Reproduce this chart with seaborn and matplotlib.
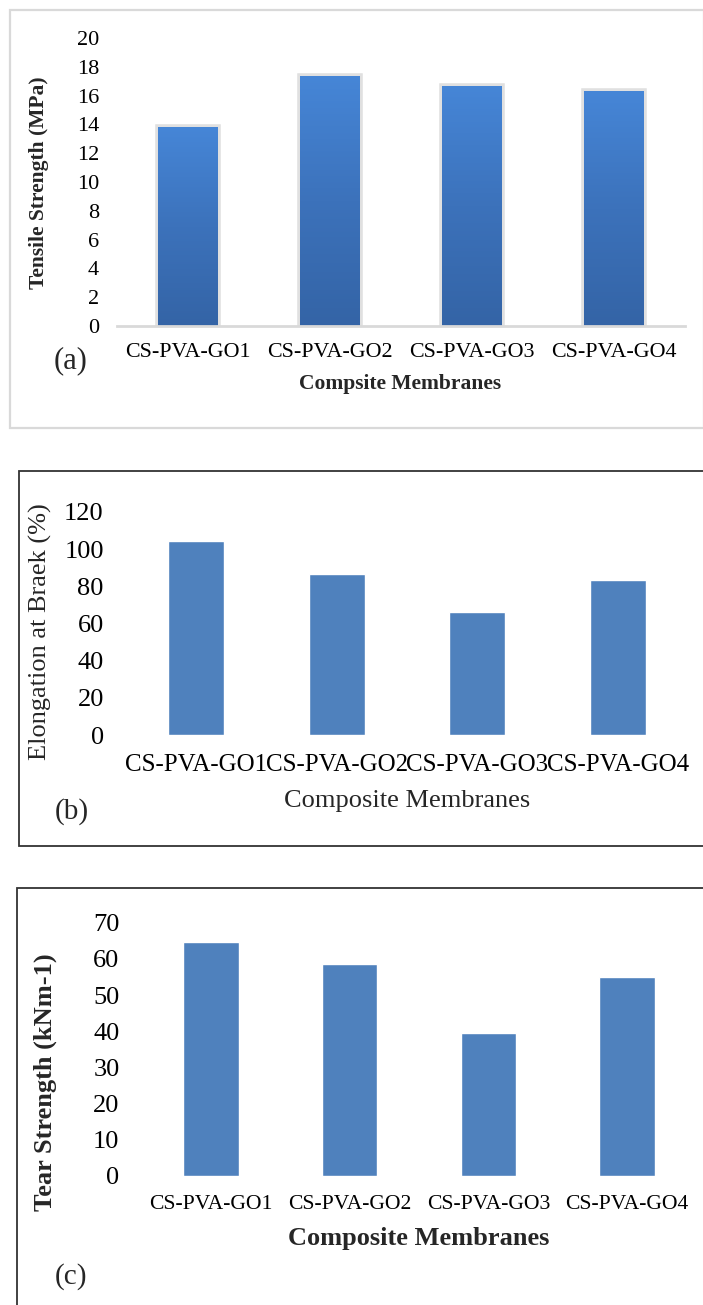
import numpy as np
import pandas as pd
import matplotlib
matplotlib.use("Agg")
import matplotlib.pyplot as plt
import seaborn as sns
from matplotlib.patches import Rectangle
from matplotlib.colors import LinearSegmentedColormap

sns.set_theme(style="white")
plt.rcParams["font.family"] = ["Liberation Serif", "DejaVu Serif"]

membranes = ["CS-PVA-GO1", "CS-PVA-GO2", "CS-PVA-GO3", "CS-PVA-GO4"]
tensile_mpa = [13.8, 17.35, 16.7, 16.3]
elongation_pct = [104.5, 86.5, 66.3, 83.6]
tear_knm = [64.6, 58.5, 39.5, 55.1]

W, H = 703, 1305
fig = plt.figure(figsize=(W / 100, H / 100), dpi=100)


def frac_rect(x0, y0, x1, y1):
    """pixel box (top-left origin) -> figure fraction [l, b, w, h]"""
    return [x0 / W, 1 - y1 / H, (x1 - x0) / W, (y1 - y0) / H]


def frame(x0, y0, x1, y1, color, lw):
    l, b, w, h = frac_rect(x0, y0, x1, y1)
    fig.patches.append(Rectangle((l, b), w, h, transform=fig.transFigure,
                                 fill=False, edgecolor=color, linewidth=lw))


def fig_text(x, y, s, **kw):
    fig.text(x / W, 1 - y / H, s, **kw)


# ---------- (a) tensile strength ----------
frame(10, 10, 703.5, 428, "#d9d9d9", 1.6)
ax1 = fig.add_axes(frac_rect(117, 38, 685, 326))
df1 = pd.DataFrame({"membrane": membranes, "value": tensile_mpa})
sns.barplot(data=df1, x="membrane", y="value", ax=ax1, width=0.42,
            color="#3f78c4", edgecolor="#e0e0e0", linewidth=4, saturation=1)
grad = LinearSegmentedColormap.from_list("blues", ["#3464a6", "#3c72bb", "#4686d7"])
for p in ax1.patches:
    x0, y0 = p.get_x(), p.get_y()
    img = ax1.imshow(np.linspace(0, 1, 256).reshape(-1, 1), cmap=grad, origin="lower",
                     extent=[x0, x0 + p.get_width(), y0, y0 + p.get_height()],
                     aspect="auto", zorder=p.get_zorder() + 0.1)
    img.set_clip_path(p)
ax1.set_xlim(-0.5, 3.5)
ax1.set_ylim(0, 20)
ax1.set_yticks(np.arange(0, 21, 2))
for s in ["top", "right", "left"]:
    ax1.spines[s].set_visible(False)
ax1.spines["bottom"].set_color("#d9d9d9")
ax1.spines["bottom"].set_linewidth(2)
ax1.tick_params(axis="y", length=0, pad=13, labelsize=16, labelcolor="black")
ax1.tick_params(axis="x", length=0, pad=12, labelsize=15.8, labelcolor="black")
ax1.set_xlabel("")
ax1.set_ylabel("")
fig_text(39, 183, "Tensile Strength (MPa)", rotation=90, ha="center", va="center",
         fontsize=15.5, fontweight="bold")
fig_text(400, 384, "Compsite Membranes", ha="center", va="center",
         fontsize=15.5, fontweight="bold")
fig_text(71, 361, "(a)", ha="center", va="center", fontsize=22)

# ---------- (b) elongation at break ----------
frame(19, 471, 703.5, 846, "#333333", 1.3)
ax2 = fig.add_axes(frac_rect(126, 512, 688, 735))
df2 = pd.DataFrame({"membrane": membranes, "value": elongation_pct})
sns.barplot(data=df2, x="membrane", y="value", ax=ax2, width=0.4,
            color="#4f81bd", saturation=1)
ax2.set_xlim(-0.5, 3.5)
ax2.set_ylim(0, 120)
ax2.set_yticks(np.arange(0, 121, 20))
for s in ["top", "right", "left", "bottom"]:
    ax2.spines[s].set_visible(False)
ax2.tick_params(axis="y", length=0, pad=16, labelsize=19, labelcolor="black")
ax2.tick_params(axis="x", length=0, pad=14, labelsize=18, labelcolor="black")
ax2.set_xlabel("")
ax2.set_ylabel("")
fig_text(40, 632, "Elongation at Braek (%)", rotation=90, ha="center", va="center",
         fontsize=19)
fig_text(407, 801, "Composite Membranes", ha="center", va="center", fontsize=19)
fig_text(72, 812, "(b)", ha="center", va="center", fontsize=21)

# ---------- (c) tear strength ----------
frame(17, 888, 703.5, 1306, "#333333", 1.3)
ax3 = fig.add_axes(frac_rect(141.7, 922.7, 696.4, 1176))
df3 = pd.DataFrame({"membrane": membranes, "value": tear_knm})
sns.barplot(data=df3, x="membrane", y="value", ax=ax3, width=0.4,
            color="#4f81bd", saturation=1)
ax3.set_xlim(-0.5, 3.5)
ax3.set_ylim(0, 70)
ax3.set_yticks(np.arange(0, 71, 10))
for s in ["top", "right", "left", "bottom"]:
    ax3.spines[s].set_visible(False)
ax3.tick_params(axis="y", length=0, pad=16, labelsize=19, labelcolor="black")
ax3.tick_params(axis="x", length=0, pad=14, labelsize=15.6, labelcolor="black")
ax3.set_xlabel("")
ax3.set_ylabel("")
fig_text(45, 1082, "Tear Strength (kNm-1)", rotation=90, ha="center", va="center",
         fontsize=19, fontweight="bold")
fig_text(419, 1238, "Composite Membranes", ha="center", va="center",
         fontsize=19, fontweight="bold")
fig_text(71, 1277, "(c)", ha="center", va="center", fontsize=21)

fig.savefig("out.png", dpi=100, facecolor="white")
